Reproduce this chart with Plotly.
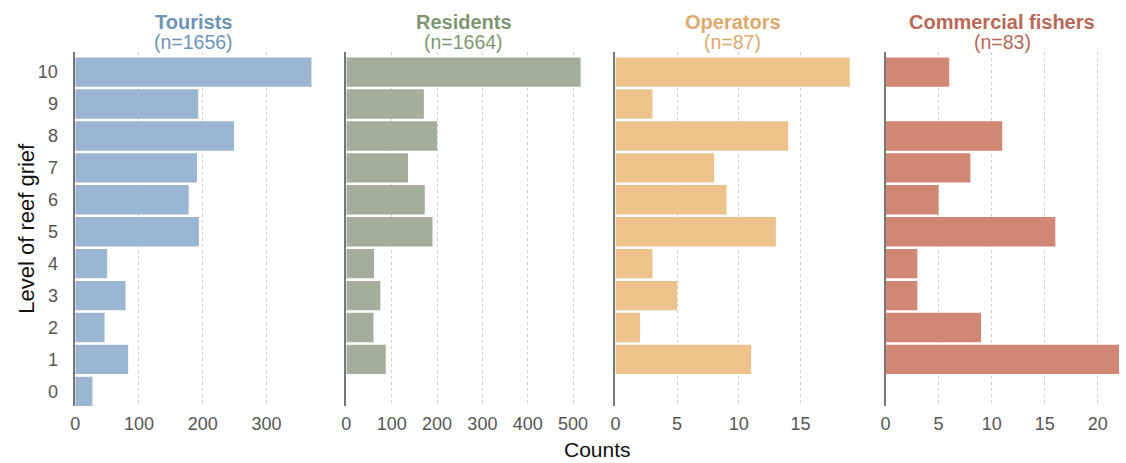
import plotly.graph_objects as go

levels = list(range(0, 11))
tourists = [27, 83, 46, 79, 50, 194, 178, 191, 249, 193, 371]
residents = [0, 87, 60, 75, 61, 190, 173, 136, 200, 171, 517]
operators = [0, 11, 2, 5, 3, 13, 9, 8, 14, 3, 19]
fishers = [0, 22, 9, 3, 3, 16, 5, 8, 11, 0, 6]

groups = ["Tourists", "Residents", "Operators", "Commercial fishers"]
ns = [1656, 1664, 87, 83]
series = [tourists, residents, operators, fishers]
bar_colors = ["#9bb6d2", "#a3af9c", "#edc38b", "#d28674"]
title_colors = ["#6e93b6", "#7f9673", "#dca96d", "#b96856"]
xticks = [[0, 100, 200, 300], [0, 100, 200, 300, 400, 500], [0, 5, 10, 15], [0, 5, 10, 15, 20]]

W, H = 1126, 463
px_domains = [(71, 310), (345, 582), (617, 854), (890, 1126)]
y_top_px, y_bot_px = 51.7, 406
ydom = [(H - y_bot_px) / H, (H - y_top_px) / H]

fig = go.Figure()
font_fam = "Liberation Sans, Arial, Helvetica, sans-serif"

for i, (g, vals) in enumerate(zip(groups, series)):
    k = "" if i == 0 else str(i + 1)
    fig.add_trace(go.Bar(
        x=vals, y=levels, orientation="h",
        marker=dict(color=bar_colors[i], line=dict(width=0)),
        xaxis="x" + k, yaxis="y" + k, showlegend=False,
    ))
    d0, d1 = px_domains[i]
    fig.update_layout(**{
        "xaxis" + k: dict(
            domain=[d0 / W, d1 / W], range=[0, max(vals)], anchor="y" + k,
            tickvals=xticks[i], showgrid=True, gridcolor="#cfcfcf", griddash="dot",
            gridwidth=1, zeroline=False, showline=False, ticks="",
            tickfont=dict(size=18, color="#555555", family=font_fam),
            ticklabelstandoff=5, fixedrange=True,
        ),
        "yaxis" + k: dict(
            domain=ydom, range=[-0.46, 10.64], anchor="x" + k,
            tickvals=levels, showticklabels=(i == 0), showgrid=False, zeroline=False,
            showline=True, linecolor="#777777", linewidth=1.5, ticks="",
            tickfont=dict(size=18, color="#555555", family=font_fam),
            ticklabelstandoff=12, fixedrange=True,
        ),
    })
    cx = (d0 + d1) / 2 / W
    fig.add_annotation(x=cx, y=(H - 22) / H, xref="paper", yref="paper",
                       xanchor="center", yanchor="middle",
                       text="<b>" + g + "</b>", showarrow=False,
                       font=dict(size=20, color=title_colors[i], family=font_fam))
    fig.add_annotation(x=cx, y=(H - 42) / H, xref="paper", yref="paper",
                       xanchor="center", yanchor="middle",
                       text="(n=" + str(ns[i]) + ")", showarrow=False,
                       font=dict(size=19.5, color=title_colors[i], family=font_fam))

fig.add_annotation(x=21 / W, y=(H - 228) / H, xref="paper", yref="paper",
                   xanchor="center", yanchor="middle",
                   text="Level of reef grief", textangle=-90, showarrow=False,
                   font=dict(size=22, color="#111111", family=font_fam))
fig.add_annotation(x=599 / W, y=(H - 449) / H, xref="paper", yref="paper",
                   xanchor="center", yanchor="middle",
                   text="Counts", showarrow=False,
                   font=dict(size=21, color="#111111", family=font_fam))

fig.update_layout(
    width=W, height=H, margin=dict(l=0, r=0, t=0, b=0),
    plot_bgcolor="white", paper_bgcolor="white", bargap=0.08,
)

fig.write_html("out.html")
